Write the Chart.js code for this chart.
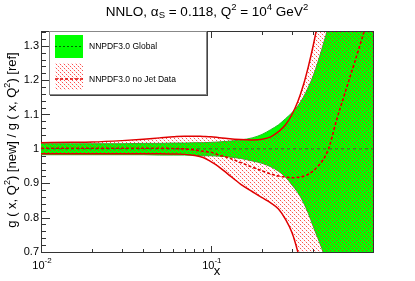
<!DOCTYPE html>
<html><head><meta charset="utf-8">
<script src="https://cdn.jsdelivr.net/npm/chart.js@4"></script>
<style>html,body{margin:0;padding:0;background:#fff;}canvas{display:block}</style>
</head><body>
<canvas id="c" width="415" height="281"></canvas>
<script>
// ---- data ----
const xValues       = [0.01,0.015,0.02,0.03,0.04,0.05,0.06,0.07,0.08,0.09,0.1,0.11,0.125,0.15,0.175,0.2,0.225,0.25,0.275,0.3,0.325,0.35,0.375,0.4,0.425,0.45,0.475,0.5,0.55,0.6,0.65,0.7,0.75,0.8,0.85,0.9];
const globalUpper   = [1.015,1.015,1.015,1.015,1.016,1.016,1.017,1.017,1.018,1.018,1.019,1.02,1.022,1.026,1.032,1.042,1.056,1.07,1.088,1.105,1.125,1.15,1.18,1.212,1.25,1.29,1.33,1.37,1.45,1.55,1.65,1.75,1.85,1.95,2.05,2.15];
const globalLower   = [0.983,0.983,0.983,0.983,0.983,0.982,0.982,0.982,0.981,0.98,0.98,0.979,0.977,0.972,0.965,0.958,0.948,0.935,0.918,0.895,0.873,0.845,0.812,0.775,0.742,0.71,0.675,0.64,0.56,0.48,0.4,0.32,0.24,0.16,0.08,0.0];
const globalCentral = [1,1,1,1,1,1,1,1,1,1,1,1,1,1,1,1,1,1,1,1,1,1,1,1,1,1,1,1,1,1,1,1,1,1,1,1];
const noJetUpper    = [1.018,1.019,1.02,1.024,1.028,1.032,1.035,1.037,1.037,1.036,1.035,1.033,1.03,1.027,1.026,1.028,1.035,1.05,1.07,1.1,1.138,1.185,1.24,1.3,1.365,1.435,1.51,1.58,1.72,1.86,2.0,2.14,2.28,2.42,2.56,2.7];
const noJetLower    = [0.986,0.986,0.986,0.986,0.986,0.986,0.985,0.984,0.981,0.975,0.963,0.95,0.928,0.897,0.876,0.858,0.843,0.825,0.795,0.757,0.7,0.63,0.55,0.46,0.37,0.28,0.19,0.1,-0.05,-0.2,-0.35,-0.5,-0.65,-0.8,-0.95,-1.1];
const noJetCentral  = [1.002,1.002,1.002,1.002,1.002,1.002,1.001,1.0,0.997,0.993,0.99,0.983,0.975,0.96,0.947,0.936,0.927,0.921,0.918,0.916,0.917,0.92,0.926,0.936,0.948,0.963,0.982,1.01,1.085,1.145,1.2,1.25,1.298,1.343,1.39,1.44];
const seriesNames   = ['NNPDF3.0 Global','NNPDF3.0 no Jet Data'];
const yTickValues   = [0.7,0.8,0.9,1.0,1.1,1.2,1.3];
const yTickLabels   = ['0.7','0.8','0.9','1','1.1','1.2','1.3'];
const xTickValues   = [0.01,0.1];
const xTickBases    = ['10','10'];
const xTickExps     = ['-2','-1'];

const FONT = '"Liberation Sans", Arial, Helvetica, sans-serif';
const pts = ys => xValues.map((x,i)=>({x:x,y:ys[i]}));

// hatch pattern
const pc = document.createElement('canvas'); pc.width=4; pc.height=4;
const pctx = pc.getContext('2d');
for(let i=0;i<4;i++){ pctx.fillStyle = (i%2===0)?'rgba(255,20,20,0.75)':'rgba(255,20,20,0.18)'; pctx.fillRect(i,i,1,1); }
const canvas = document.getElementById('c');
const hatch = canvas.getContext('2d').createPattern(pc,'repeat');

function drawRich(ctx, parts, x, y, align){
  let w=0;
  parts.forEach(p=>{ctx.font=p[1]+'px '+FONT; w+=ctx.measureText(p[0]).width;});
  let cx = align==='center'? x-w/2 : x;
  ctx.textAlign='left';
  parts.forEach(p=>{ctx.font=p[1]+'px '+FONT; ctx.fillText(p[0],cx,y+p[2]); cx+=ctx.measureText(p[0]).width;});
}

const rootPlugin = {
  id:'rootStyle',
  beforeDatasetsDraw(chart){
    const ctx=chart.ctx, a=chart.chartArea, xs=chart.scales.x, ys=chart.scales.y;
    ctx.save();
    ctx.strokeStyle='#333'; ctx.lineWidth=1;
    ctx.strokeRect(a.left+0.5,a.top-0.5,a.right-a.left,a.bottom-a.top+1);
    ctx.beginPath();
    for(let k=35;k<=67;k++){
      const py=Math.round(ys.getPixelForValue(k/50))+0.5;
      const len=(k%5===0)?9:5;
      ctx.moveTo(a.left,py); ctx.lineTo(a.left+len,py);
    }
    [0.01,0.1].forEach(d=>{
      for(let m=1;m<=9;m++){
        const v=m*d; if(v>0.9+1e-9) continue;
        const px=Math.round(xs.getPixelForValue(v))+0.5;
        const len=(m===1)?6:3;
        ctx.moveTo(px,a.bottom); ctx.lineTo(px,a.bottom-len);
        ctx.moveTo(px,a.top); ctx.lineTo(px,a.top+len);
      }
    });
    ctx.stroke();
    ctx.restore();
  },
  afterDatasetsDraw(chart){
    const ctx=chart.ctx;
    ctx.save();
    ctx.fillStyle='#fff'; ctx.fillRect(49,31,158,64);
    ctx.strokeStyle='#888'; ctx.lineWidth=1; ctx.strokeRect(49.5,31.5,157,63);
    ctx.strokeStyle='#444'; ctx.beginPath(); ctx.moveTo(207.5,32); ctx.lineTo(207.5,96); ctx.moveTo(50,95.5); ctx.lineTo(208,95.5); ctx.stroke();
    ctx.fillStyle='#00ff00'; ctx.fillRect(55,35,28,23);
    ctx.strokeStyle='#006400'; ctx.setLineDash([2,2]); ctx.beginPath(); ctx.moveTo(55,46.5); ctx.lineTo(83,46.5); ctx.stroke();
    ctx.fillStyle=hatch; ctx.fillRect(55,63,28,27);
    ctx.strokeStyle='#e00000'; ctx.lineWidth=1.5; ctx.setLineDash([3,2]); ctx.beginPath(); ctx.moveTo(55,79); ctx.lineTo(83,79); ctx.stroke();
    ctx.setLineDash([]);
    ctx.fillStyle='#000'; ctx.font='8.5px '+FONT; ctx.textBaseline='middle'; ctx.textAlign='left';
    ctx.fillText(seriesNames[0],89,47);
    ctx.fillText(seriesNames[1],89,80);
    ctx.restore();
  },
  afterDraw(chart){
    const ctx=chart.ctx, xs=chart.scales.x, ys=chart.scales.y;
    ctx.save();
    ctx.fillStyle='#000'; ctx.textBaseline='middle';
    drawRich(ctx,[['NNLO, ',13.5,0],['\u03B1',13.5,0],['S',9.5,3],[' = 0.118, Q',13.5,0],['2',9.5,-5],[' = 10',13.5,0],['4',9.5,-5],[' GeV',13.5,0],['2',9.5,-5]],207,12,'center');
    ctx.font='11px '+FONT; ctx.textAlign='right';
    yTickValues.forEach((v,i)=>ctx.fillText(yTickLabels[i],39,ys.getPixelForValue(v)));
    xTickValues.forEach((v,i)=>drawRich(ctx,[[xTickBases[i],11,0],[xTickExps[i],8,-5]],xs.getPixelForValue(v)+1,266,'center'));
    ctx.font='13px '+FONT; ctx.textAlign='center'; ctx.fillText('x',217,271);
    ctx.translate(12,140); ctx.rotate(-Math.PI/2);
    drawRich(ctx,[['g ( x, Q',13,0],['2',9,-4],[') [new] / g ( x, Q',13,0],['2',9,-4],[') [ref]',13,0]],0,0,'center');
    ctx.restore();
  }
};

new Chart(canvas,{
  type:'line',
  data:{datasets:[
    {data:pts(globalUpper), fill:1, backgroundColor:'#00ff00', borderColor:'#22bb22', borderWidth:1, order:10},
    {data:pts(globalLower), fill:false, borderColor:'#22bb22', borderWidth:1, order:9},
    {data:pts(globalCentral), fill:false, borderColor:'#2a6e2a', borderWidth:1, borderDash:[3,3], order:8},
    {data:pts(noJetUpper), fill:4, backgroundColor:hatch, borderColor:'#e00000', borderWidth:1.5, order:7},
    {data:pts(noJetLower), fill:false, borderColor:'#e00000', borderWidth:1.5, order:6},
    {data:pts(noJetCentral), fill:false, borderColor:'#dd0000', borderWidth:1.6, borderDash:[3,2], order:5}
  ]},
  options:{
    responsive:false, animation:false, events:[],
    layout:{padding:{left:41,right:42,top:32,bottom:29}},
    elements:{point:{radius:0}, line:{cubicInterpolationMode:'monotone'}},
    scales:{
      x:{type:'logarithmic', min:0.01, max:0.9, display:false},
      y:{type:'linear', min:0.7, max:1.34, display:false}
    },
    plugins:{legend:{display:false}, tooltip:{enabled:false}, title:{display:false}}
  },
  plugins:[rootPlugin]
});
</script>
</body></html>
